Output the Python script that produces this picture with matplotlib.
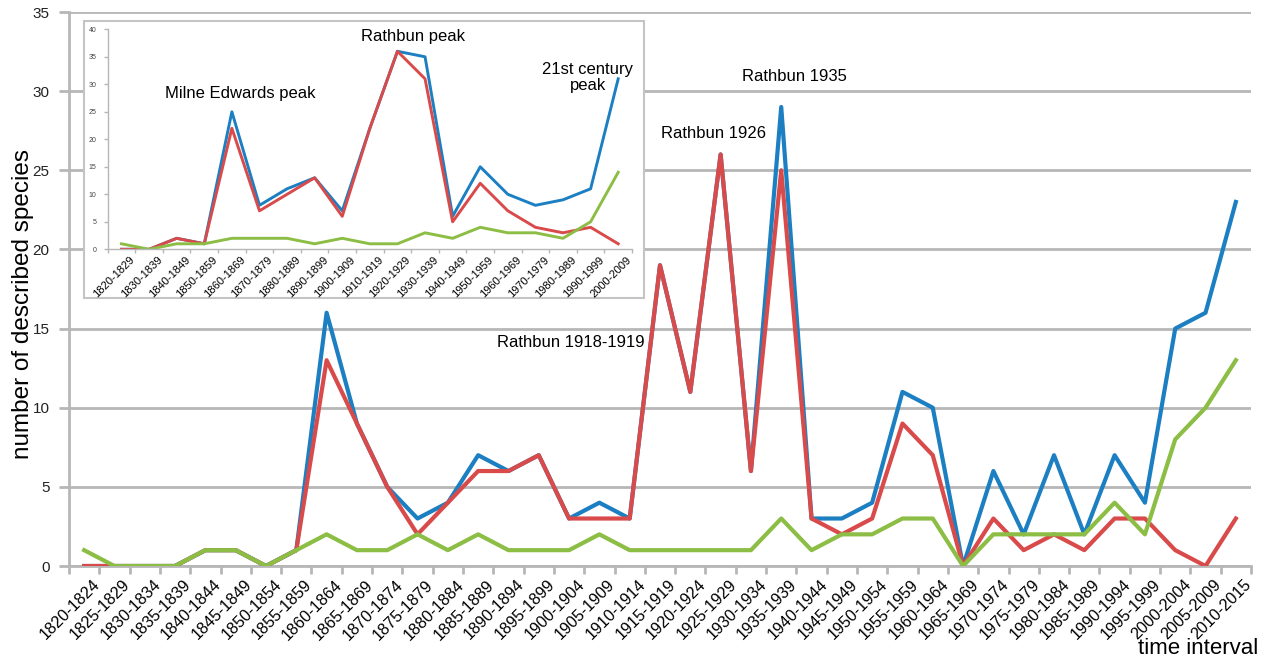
import matplotlib
matplotlib.use('Agg')
import matplotlib.pyplot as plt
from matplotlib.patches import Rectangle
from matplotlib.transforms import ScaledTranslation
import numpy as np

plt.rcParams['font.family'] = ['Liberation Sans', 'DejaVu Sans']

# main chart: 5-year intervals
intervals = ['1820-1824', '1825-1829', '1830-1834', '1835-1839', '1840-1844',
             '1845-1849', '1850-1854', '1855-1859', '1860-1864', '1865-1869',
             '1870-1874', '1875-1879', '1880-1884', '1885-1889', '1890-1894',
             '1895-1899', '1900-1904', '1905-1909', '1910-1914', '1915-1919',
             '1920-1924', '1925-1929', '1930-1934', '1935-1939', '1940-1944',
             '1945-1949', '1950-1954', '1955-1959', '1960-1964', '1965-1969',
             '1970-1974', '1975-1979', '1980-1984', '1985-1989', '1990-1994',
             '1995-1999', '2000-2004', '2005-2009', '2010-2015']
blue = [0, 0, 0, 0, 1, 1, 0, 1, 16, 9, 5, 3, 4, 7, 6, 7, 3, 4, 3, 19,
        11, 26, 6, 29, 3, 3, 4, 11, 10, 0, 6, 2, 7, 2, 7, 4, 15, 16, 23]
red = [0, 0, 0, 0, 1, 1, 0, 1, 13, 9, 5, 2, 4, 6, 6, 7, 3, 3, 3, 19,
       11, 26, 6, 25, 3, 2, 3, 9, 7, 0, 3, 1, 2, 1, 3, 3, 1, 0, 3]
green = [1, 0, 0, 0, 1, 1, 0, 1, 2, 1, 1, 2, 1, 2, 1, 1, 1, 2, 1, 1,
         1, 1, 1, 3, 1, 2, 2, 3, 3, 0, 2, 2, 2, 2, 4, 2, 8, 10, 13]

# inset: decades
decades = ['1820-1829', '1830-1839', '1840-1849', '1850-1859', '1860-1869',
           '1870-1879', '1880-1889', '1890-1899', '1900-1909', '1910-1919',
           '1920-1929', '1930-1939', '1940-1949', '1950-1959', '1960-1969',
           '1970-1979', '1980-1989', '1990-1999', '2000-2009']
blue_dec = [0, 0, 2, 1, 25, 8, 11, 13, 7, 22, 36, 35, 6, 15, 10, 8, 9, 11, 31]
red_dec = [0, 0, 2, 1, 22, 7, 10, 13, 6, 22, 36, 31, 5, 12, 7, 4, 3, 4, 1]
green_dec = [1, 0, 1, 1, 2, 2, 2, 1, 2, 1, 1, 3, 2, 4, 3, 3, 2, 5, 14]

c_blue = '#1c7fc2'
c_red = '#d94a4b'
c_green = '#8cbd45'
c_grid = '#b7b7b7'

W, H = 1272, 662
fig = plt.figure(figsize=(W / 100, H / 100), dpi=100)

# ---- main axes
ax = fig.add_axes([69 / W, 96 / H, 1182 / W, 554 / H])
ax.set_zorder(0)
x = np.arange(len(intervals))
ax.plot(x, blue, color=c_blue, lw=3, zorder=3)
ax.plot(x, red, color=c_red, lw=3, zorder=4)
ax.plot(x, green, color=c_green, lw=3, zorder=5)

ax.set_xlim(-0.5, len(intervals) - 0.5)
ax.set_ylim(0, 35)
ax.set_yticks(range(0, 36, 5))
ax.yaxis.grid(True, color=c_grid, lw=2)
ax.set_axisbelow(True)
for s in ['top', 'right']:
    ax.spines[s].set_visible(False)
for s in ['left', 'bottom']:
    ax.spines[s].set_color(c_grid)
    ax.spines[s].set_linewidth(2)
ax.tick_params(axis='y', colors=c_grid, length=7, width=2, labelcolor='#222222',
               labelsize=11, pad=7)
# tick marks sit between categories, labels under category centres
ax.set_xticks(np.arange(len(intervals) + 1) - 0.5)
ax.set_xticklabels([])
ax.set_xticks(x, minor=True)
ax.set_xticklabels(intervals, minor=True, rotation=45, ha='right',
                   rotation_mode='anchor', fontsize=11.6)
ax.tick_params(axis='x', which='major', colors=c_grid, length=6, width=2)
ax.tick_params(axis='x', which='minor', length=0, pad=8)
off = ScaledTranslation(8 / 100, 0, fig.dpi_scale_trans)
for lab in ax.get_xticklabels(minor=True):
    lab.set_transform(lab.get_transform() + off)

fig.text(23 / W, 1 - 304 / H, 'number of described species', rotation=90,
         ha='center', va='center', fontsize=17.5)
fig.text(1258 / W, 1 - 648 / H, 'time interval', ha='right', va='center',
         fontsize=16)

ax.text(23.45, 30.9, 'Rathbun 1935', ha='center', va='center', fontsize=12)
ax.text(20.75, 27.35, 'Rathbun 1926', ha='center', va='center', fontsize=12)
ax.text(16.06, 14.1, 'Rathbun 1918-1919', ha='center', va='center', fontsize=12)

# ---- inset frame
frame = Rectangle((84 / W, 1 - 298 / H), 560 / W, 277 / H, transform=fig.transFigure,
                  facecolor='white', edgecolor='#c4c4c4', lw=1.5, zorder=1)
fig.add_artist(frame)

ins = fig.add_axes([107.7 / W, 1 - 249.3 / H, 524.3 / W, 220 / H])
ins.set_zorder(2)
ins.patch.set_alpha(0)
xd = np.arange(len(decades))
ins.plot(xd, blue_dec, color=c_blue, lw=2.1)
ins.plot(xd, red_dec, color=c_red, lw=2.1)
ins.plot(xd, green_dec, color=c_green, lw=2.1)
ins.set_xlim(-0.5, len(decades) - 0.5)
ins.set_ylim(0, 40)
ins.set_yticks(range(0, 41, 5))
for s in ['top', 'right']:
    ins.spines[s].set_visible(False)
for s in ['left', 'bottom']:
    ins.spines[s].set_color(c_grid)
    ins.spines[s].set_linewidth(1)
ins.tick_params(axis='y', colors=c_grid, length=3, width=1, labelcolor='#444444',
                labelsize=5, pad=5)
ins.set_xticks(np.arange(len(decades) + 1) - 0.5)
ins.set_xticklabels([])
ins.set_xticks(xd, minor=True)
ins.set_xticklabels(decades, minor=True, rotation=45, ha='right',
                    rotation_mode='anchor', fontsize=8)
ins.tick_params(axis='x', which='major', colors=c_grid, length=3, width=1)
ins.tick_params(axis='x', which='minor', length=0, pad=4)
off2 = ScaledTranslation(8 / 100, 0, fig.dpi_scale_trans)
for lab in ins.get_xticklabels(minor=True):
    lab.set_transform(lab.get_transform() + off2)

ins.text(4.29, 28.4, 'Milne Edwards peak', ha='center', va='center', fontsize=12)
ins.text(10.56, 38.6, 'Rathbun peak', ha='center', va='center', fontsize=12)
ins.text(16.9, 31.3, '21st century\npeak', ha='center', va='center', fontsize=12,
         multialignment='center', linespacing=1.1)

fig.savefig('out.png', dpi=100)
